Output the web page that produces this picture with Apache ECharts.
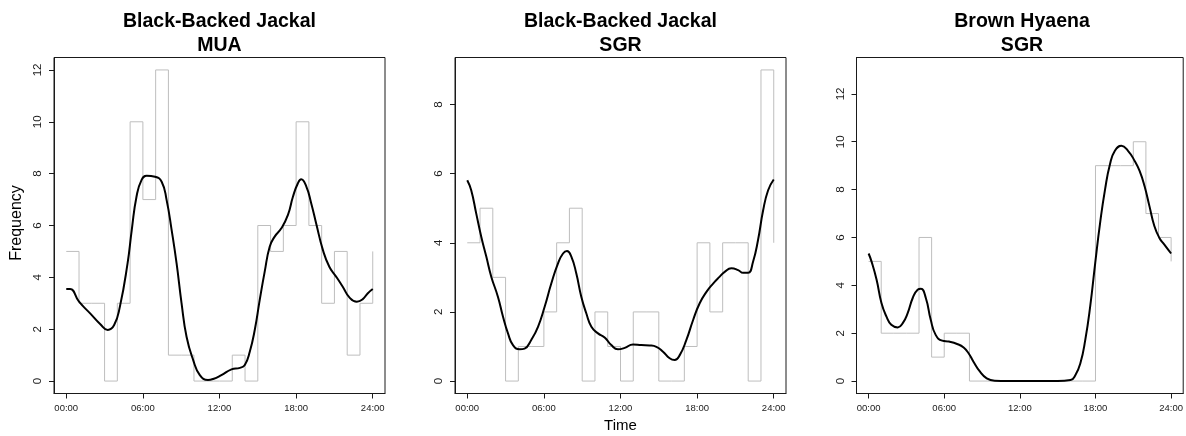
<!DOCTYPE html>
<html>
<head>
<meta charset="utf-8">
<script src="https://cdn.jsdelivr.net/npm/echarts@6/dist/echarts.min.js"></script>
<style>
html,body{margin:0;padding:0;background:#fff;}
#chart{width:1186px;height:436px;}
</style>
</head>
<body>
<div id="chart"></div>
<script>
// ---------- data ----------
var panelTitles = ['Black-Backed Jackal\nMUA', 'Black-Backed Jackal\nSGR', 'Brown Hyaena\nSGR'];
var xTickHours = [0, 6, 12, 18, 24];
var yTicks1 = [0, 2, 4, 6, 8, 10, 12];
var yTicks2 = [0, 2, 4, 6, 8];
var yTicks3 = [0, 2, 4, 6, 8, 10, 12];
var yLimit1 = 12, yLimit2 = 9, yLimit3 = 13;

// hourly counts (bins 00-01 ... 23-24)
var histJackalMUA = [5,3,3,0,3,10,7,12,1,1,0,0,0,1,0,6,5,6,10,6,3,5,1,3];
var histJackalSGR = [4,5,3,0,1,1,2,4,5,0,2,1,0,2,2,0,0,1,4,2,4,4,0,9];
var histHyaenaSGR = [5,2,2,2,6,1,2,2,0,0,0,0,0,0,0,0,0,0,9,9,9,10,7,6];

// smoothed density curves, [hour, frequency]
var densJackalMUA = [[0,3.55],[0.3,3.55],[1.0,3.06],[1.87,2.61],[2.65,2.2],[3.25,1.97],[3.75,2.16],[4.2,2.87],[4.8,4.54],[5.13,5.83],[5.5,7.11],[5.9,7.76],[6.3,7.92],[6.95,7.88],[7.47,7.69],[7.86,6.98],[8.25,5.83],[8.64,4.54],[9.03,3.0],[9.42,1.71],[9.94,0.81],[10.46,0.23],[11.1,0.04],[11.5,0.08],[12.15,0.23],[12.94,0.45],[13.6,0.51],[13.98,0.62],[14.37,1.13],[14.76,1.97],[15.15,3.13],[15.54,4.22],[15.93,5.18],[16.32,5.57],[16.84,5.89],[17.36,6.41],[17.75,7.11],[18.14,7.63],[18.4,7.78],[18.8,7.5],[19.18,6.86],[19.57,6.08],[20.1,5.05],[20.6,4.41],[21.13,4.03],[21.65,3.64],[22.17,3.23],[22.75,3.06],[23.2,3.15],[23.6,3.38],[24,3.55]];
var densJackalSGR = [[0,5.81],[0.31,5.52],[0.7,4.85],[1.1,4.17],[1.49,3.6],[1.88,3.02],[2.4,2.44],[2.8,1.86],[3.19,1.38],[3.58,1.04],[4.1,0.92],[4.49,0.94],[5.01,1.19],[5.54,1.57],[6.06,2.15],[6.58,2.82],[7.1,3.4],[7.5,3.69],[7.81,3.76],[8.15,3.6],[8.54,3.11],[8.93,2.44],[9.32,1.96],[9.72,1.57],[10.24,1.38],[10.76,1.26],[11.28,1.04],[11.8,0.92],[12.33,0.96],[12.98,1.06],[13.63,1.04],[14.29,1.03],[14.81,0.99],[15.33,0.85],[15.85,0.66],[16.24,0.61],[16.64,0.75],[17.16,1.19],[17.68,1.76],[18.2,2.25],[18.73,2.58],[19.25,2.82],[19.77,3.02],[20.16,3.16],[20.68,3.26],[21.21,3.21],[21.6,3.13],[21.99,3.13],[22.38,3.45],[22.77,4.08],[23.17,4.94],[23.56,5.52],[24,5.83]];
var densHyaenaSGR = [[0,5.33],[0.23,5.0],[0.63,4.24],[1.02,3.26],[1.41,2.7],[1.8,2.35],[2.32,2.24],[2.71,2.42],[3.1,2.84],[3.5,3.47],[3.89,3.82],[4.15,3.86],[4.54,3.47],[4.93,2.56],[5.32,1.93],[5.84,1.69],[6.37,1.65],[7.02,1.55],[7.54,1.4],[7.93,1.16],[8.32,0.81],[8.84,0.39],[9.37,0.11],[10.0,0.01],[11,0],[12,0],[13,0],[14,0],[15,0],[16.02,0.04],[16.41,0.25],[16.8,0.74],[17.19,1.72],[17.58,3.12],[17.98,4.94],[18.37,6.62],[18.76,8.01],[19.15,9.06],[19.54,9.62],[20.06,9.83],[20.58,9.62],[21.11,9.2],[21.5,8.78],[21.89,8.15],[22.28,7.31],[22.67,6.48],[23.06,5.99],[23.45,5.71],[24,5.33]];

var yAxisLabel = 'Frequency';
var xAxisLabel = 'Time';

// ---------- build ----------
function stepPoints(counts) {
  var pts = counts.map(function (v, i) { return [i, v]; });
  pts.push([counts.length, counts[0]]);
  return pts;
}
function hourLabel(v) {
  var h = Math.round(v);
  return (h < 10 ? '0' + h : '' + h) + ':00';
}

var lefts = [54, 455, 856.5];
var gridW = 331, gridTop = 57.5, gridH = 336;
var hists = [histJackalMUA, histJackalSGR, histHyaenaSGR];
var dens = [densJackalMUA, densJackalSGR, densHyaenaSGR];
var yTicks = [yTicks1, yTicks2, yTicks3];
var yLims = [yLimit1, yLimit2, yLimit3];
var font = 'Liberation Sans, Arial, sans-serif';
var ink = '#1a1a1a';

var grids = [], xAxes = [], yAxes = [], series = [], graphics = [];
for (var p = 0; p < 3; p++) {
  grids.push({
    left: lefts[p], top: gridTop, width: gridW, height: gridH,
    show: true, borderColor: ink, borderWidth: 1, backgroundColor: 'transparent',
    containLabel: false
  });
  xAxes.push({
    type: 'value', gridIndex: p, min: -0.96, max: 24.96, position: 'bottom',
    splitLine: { show: false },
    axisLine: { show: true, onZero: false, lineStyle: { color: ink, width: 1 } },
    axisTick: { show: true, customValues: xTickHours, length: 5, inside: false,
                lineStyle: { color: ink, width: 1 } },
    axisLabel: { show: true, customValues: xTickHours, formatter: hourLabel, margin: 10,
                 fontFamily: font, fontSize: 9.5, color: ink }
  });
  var lim = yLims[p];
  yAxes.push({
    type: 'value', gridIndex: p, min: -0.04 * lim, max: lim * 1.04, position: 'left',
    splitLine: { show: false },
    axisLine: { show: true, onZero: false, lineStyle: { color: ink, width: 1 } },
    axisTick: { show: true, customValues: yTicks[p], length: 5, inside: false,
                lineStyle: { color: ink, width: 1 } },
    axisLabel: { show: true, customValues: yTicks[p], rotate: 90, margin: 10,
                 fontFamily: font, fontSize: 11.5, color: ink }
  });
  series.push({
    type: 'line', xAxisIndex: p, yAxisIndex: p, data: stepPoints(hists[p]),
    step: 'end', symbol: 'none', silent: true, z: 2,
    lineStyle: { color: '#bebebe', width: 1 }
  });
  series.push({
    type: 'line', xAxisIndex: p, yAxisIndex: p, data: dens[p],
    smooth: 0.5, symbol: 'none', silent: true, z: 3,
    lineStyle: { color: '#000', width: 2 }
  });
  graphics.push({
    type: 'text', x: lefts[p] + gridW / 2, y: 33.5,
    style: { text: panelTitles[p], fontFamily: font,
             fontWeight: 'bold', fontSize: 19.5, lineHeight: 23.5,
             align: 'center', verticalAlign: 'middle', fill: '#000' }
  });
}
graphics.push({
  type: 'text', x: 17, y: 223, rotation: Math.PI / 2,
  style: { text: yAxisLabel, fontFamily: font,
           fontSize: 16, align: 'center', verticalAlign: 'middle', fill: '#000' }
});
graphics.push({
  type: 'text', x: lefts[1] + gridW / 2, y: 426,
  style: { text: xAxisLabel, fontFamily: font,
           fontSize: 15, align: 'center', verticalAlign: 'middle', fill: '#000' }
});

var chart = echarts.init(document.getElementById('chart'), null, { renderer: 'canvas' });
chart.setOption({
  animation: false,
  backgroundColor: '#fff',
  grid: grids,
  xAxis: xAxes,
  yAxis: yAxes,
  series: series,
  graphic: graphics
});
</script>
</body>
</html>
